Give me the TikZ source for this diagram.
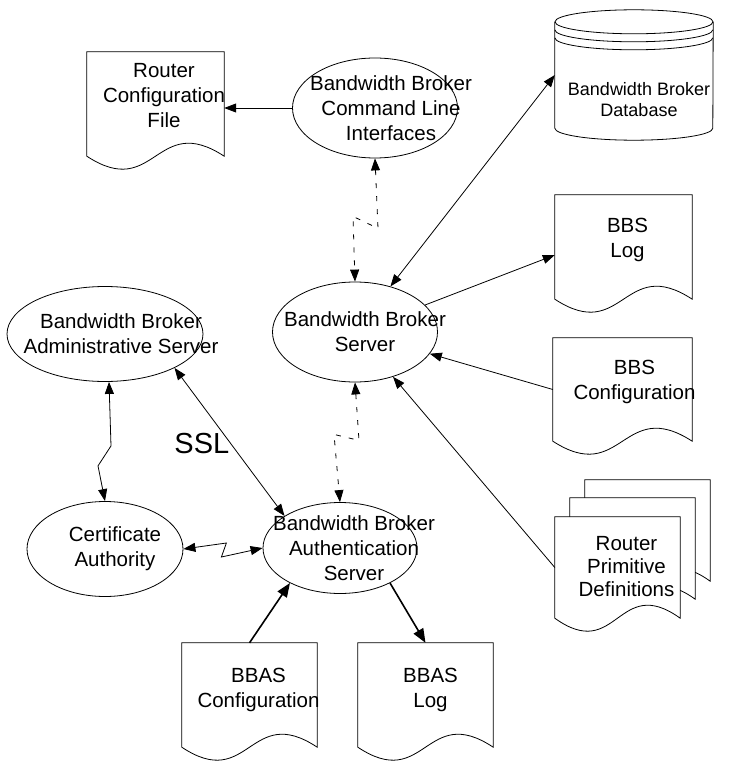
\documentclass[tikz,border=0pt]{standalone}
\usepackage{fontspec}
\setmainfont{Liberation Sans}
\usetikzlibrary{arrows.meta,positioning,calc,shapes.geometric,backgrounds}
\tikzset{
  procell/.style={ellipse,draw,line width=0.8pt,inner sep=0pt},
  docbox/.style={rectangle,inner sep=0pt},
  lbl/.style={align=center,inner sep=0pt,font=\fontsize{20.5}{25}\selectfont},
  ssltext/.style={inner sep=0pt,font=\fontsize{29}{30}\selectfont},
  flowarrow/.style={-{Triangle[length=12pt,width=9pt]},line width=0.8pt},
  biarrow/.style={{Triangle[length=12pt,width=9pt]}-{Triangle[length=12pt,width=9pt]},line width=0.8pt},
  dasharrow/.style={biarrow,dash pattern=on 5pt off 8pt},
  thickarrow/.style={-{Triangle[length=14pt,width=11pt]},line width=1.6pt},
}
% page with a wavy bottom, drawn behind the text
\newcommand{\docoutline}[1]{%
  \begin{scope}[on background layer]
    \draw[line width=0.8pt,fill=white] (#1.south west) -- (#1.north west) -- (#1.north east) -- (#1.south east)
      .. controls ($(#1.south)+(0,-45)$) and ($(#1.south)+(0,45)$) .. (#1.south west) -- cycle;
  \end{scope}}

\begin{document}
\begin{tikzpicture}[x=1pt,y=-1pt]
\useasboundingbox (0,0) rectangle (735,762);

% documents
\node[docbox,minimum width=137pt,minimum height=104pt,label={[lbl,xshift=8.5pt,yshift=8pt]center:Router\\Configuration\\File}] (rcfg) at (155.5,104) {};
\docoutline{rcfg}
\node[docbox,minimum width=137pt,minimum height=104pt,label={[lbl,xshift=4pt,yshift=7pt]center:BBS\\Log}] (bblog) at (623.5,247) {};
\docoutline{bblog}
\node[docbox,minimum width=139pt,minimum height=103pt,label={[lbl,xshift=12pt,yshift=8pt]center:BBS\\Configuration}] (bbcfg) at (622.5,389.5) {};
\docoutline{bbcfg}
\node[docbox,minimum width=125pt,minimum height=101pt] (rprimb) at (647.5,530.5) {};
\docoutline{rprimb}
\node[docbox,minimum width=125pt,minimum height=101pt] (rprimm) at (632.5,548.5) {};
\docoutline{rprimm}
\node[docbox,minimum width=125pt,minimum height=101pt,label={[lbl,font=\fontsize{20.5}{23}\selectfont,xshift=9pt,yshift=1pt]center:Router\\Primitive\\Definitions}] (rprim) at (617.5,567.5) {};
\docoutline{rprim}
\node[docbox,minimum width=135pt,minimum height=104pt,label={[lbl,xshift=9pt,yshift=5pt]center:BBAS\\Configuration}] (bbascfg) at (249.5,695) {};
\docoutline{bbascfg}
\node[docbox,minimum width=135pt,minimum height=104pt,label={[lbl,xshift=5pt,yshift=5pt]center:BBAS\\Log}] (bbaslog) at (425.5,695) {};
\docoutline{bbaslog}

% database
\node[docbox,minimum width=158pt,minimum height=130pt,label={[lbl,font=\fontsize{18}{21}\selectfont,xshift=5pt,yshift=-25pt]center:Bandwidth Broker\\Database}] (db) at (634,75) {};
\draw[line width=0.8pt] (db.north west) ++(0,12) -- ($(db.south west)+(0,-12)$)
  arc[start angle=180,end angle=360,x radius=79pt,y radius=12pt] -- ($(db.north east)+(0,12)$);
\draw[line width=0.8pt] ($(db.north)+(0,12)$) ellipse [x radius=79pt,y radius=12pt];
\draw[line width=0.8pt] ($(db.north west)+(0,20)$) arc[start angle=180,end angle=360,x radius=79pt,y radius=12pt];
\draw[line width=0.8pt] ($(db.north west)+(0,28)$) arc[start angle=180,end angle=360,x radius=79pt,y radius=12pt];

% processes
\node[procell,minimum width=165pt,minimum height=100pt,label={[lbl,xshift=16pt]center:Bandwidth Broker\\Command Line\\Interfaces}] (cli) at (375,108) {};
\node[procell,minimum width=165pt,minimum height=100pt,label={[lbl,xshift=10pt]center:Bandwidth Broker\\Server}] (bbs) at (355,332) {};
\node[procell,minimum width=196pt,minimum height=95pt,label={[lbl,xshift=16pt]center:Bandwidth Broker\\Administrative Server}] (admin) at (105,334) {};
\node[procell,minimum width=156pt,minimum height=95pt,label={[lbl,xshift=10pt]center:Certificate\\Authority}] (ca) at (105,549) {};
\node[procell,minimum width=154pt,minimum height=91pt,label={[lbl,xshift=14pt]center:Bandwidth Broker\\Authentication\\Server}] (auth) at (340,548) {};

% connectors
\draw[flowarrow] (cli.west) -- (cli.west -| rcfg.east);
\draw[dasharrow] (cli.south) -- ++(3,70) -- ++(-25,-12) -- (bbs.north);
\draw[biarrow] (bbs) -- (db.west);
\draw[flowarrow] (bbs) -- ($(bblog.west)+(0,8)$);
\draw[flowarrow] (bbcfg.west) -- (bbs);
\draw[flowarrow] (rprim.west) -- (bbs);
\draw[dasharrow] (bbs.south) -- ++(4,58) -- ++(-25,-6) -- (auth.north);
\draw[biarrow] (admin.-26) -- node[ssltext,pos=.51,left=1pt] (ssl) {SSL} (auth.150);
\draw[biarrow] ([xshift=4pt]admin.south) -- ++(2,64) -- ++(-13,20) -- (ca.north);
\draw[biarrow] (ca.east) -- ++(43,-6) -- ++(-5,14) -- (auth.west);
\draw[thickarrow] (bbascfg.north) -- (auth.215);
\draw[thickarrow] (auth.-35) -- (bbaslog.north);
\end{tikzpicture}
\end{document}
